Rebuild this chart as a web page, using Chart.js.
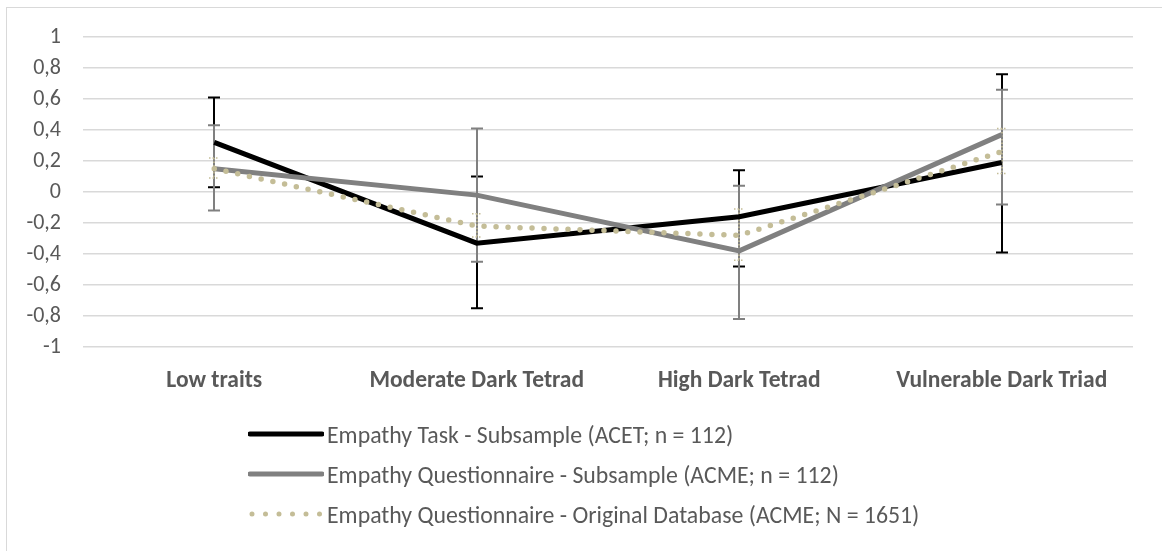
<!DOCTYPE html>
<html>
<head>
<meta charset="utf-8">
<script src="https://cdn.jsdelivr.net/npm/chart.js@4.4.1/dist/chart.umd.min.js"></script>
<style>
  html, body { margin: 0; padding: 0; background: #fff; }
  #wrap { position: relative; width: 1162px; height: 551px; overflow: hidden; background: #fff; }
  #frame { position: absolute; left: 6px; top: 7px; width: 1200px; height: 600px;
           border-left: 1px solid #d9d9d9; border-top: 1px solid #d9d9d9; }
  #chart { position: absolute; left: 0; top: 0; }
  #legend { position: absolute; left: 248px; top: 414px; font-family: Carlito, Lato, sans-serif;
            font-size: 23.8px; color: #595959; white-space: nowrap; }
  .lg-row { height: 40px; display: flex; align-items: center; }
  .lg-row > div { height: 30px; display: flex; align-items: center; }
  .lg-row svg { margin-right: 3px; }
</style>
</head>
<body>
<div id="wrap">
  <div id="frame"></div>
  <canvas id="chart" width="1162" height="551"></canvas>
  <div id="legend"></div>
</div>
<script>
const CATEGORIES = ['Low traits', 'Moderate Dark Tetrad', 'High Dark Tetrad', 'Vulnerable Dark Triad']

const ACET_LABEL = 'Empathy Task - Subsample (ACET; n = 112)'
const ACET_VALUES = [0.32, -0.33, -0.16, 0.19]
const ACET_ERR_HI = [0.61, 0.10, 0.14, 0.76]
const ACET_ERR_LO = [0.03, -0.75, -0.48, -0.39]

const ACME_SUB_LABEL = 'Empathy Questionnaire - Subsample (ACME; n = 112)'
const ACME_SUB_VALUES = [0.15, -0.02, -0.38, 0.37]
const ACME_SUB_ERR_HI = [0.43, 0.41, 0.04, 0.66]
const ACME_SUB_ERR_LO = [-0.12, -0.45, -0.82, -0.08]

const ACME_ORIG_LABEL = 'Empathy Questionnaire - Original Database (ACME; N = 1651)'
const ACME_ORIG_VALUES = [0.15, -0.22, -0.28, 0.26]
const ACME_ORIG_ERR_HI = [0.22, -0.14, -0.11, 0.41]
const ACME_ORIG_ERR_LO = [0.09, -0.29, -0.44, 0.12]

const Y_TICKS = [1, 0.8, 0.6, 0.4, 0.2, 0, -0.2, -0.4, -0.6, -0.8, -1]

const BLACK = '#000000'
const GRAY = '#808080'
const TAN = '#c4bd97'
const FONT = 'Carlito, Lato, sans-serif'

// vertical whiskers with caps, drawn under the lines
const errorBars = {
  id: 'errorBars',
  beforeDatasetsDraw(chart) {
    const ctx = chart.ctx
    const y = chart.scales.y
    chart.data.datasets.forEach((ds, i) => {
      const meta = chart.getDatasetMeta(i)
      const eb = ds.errorBars
      ctx.save()
      ctx.strokeStyle = eb.color
      ctx.lineWidth = eb.width
      ctx.setLineDash(eb.dash || [])
      meta.data.forEach((pt, j) => {
        const top = y.getPixelForValue(eb.hi[j])
        const bot = y.getPixelForValue(eb.lo[j])
        const x = Math.round(pt.x)
        ctx.beginPath()
        ctx.moveTo(x, top); ctx.lineTo(x, bot)
        ctx.moveTo(x - eb.cap, top); ctx.lineTo(x + eb.cap, top)
        ctx.moveTo(x - eb.cap, bot); ctx.lineTo(x + eb.cap, bot)
        ctx.stroke()
      })
      ctx.restore()
    })
  }
}

const datasets = [
  {
    label: ACET_LABEL, data: ACET_VALUES, borderColor: BLACK, borderWidth: 5,
    order: 3, errorBars: { hi: ACET_ERR_HI, lo: ACET_ERR_LO, color: BLACK, width: 2, cap: 6 },
  },
  {
    label: ACME_SUB_LABEL, data: ACME_SUB_VALUES, borderColor: GRAY, borderWidth: 5,
    order: 2, errorBars: { hi: ACME_SUB_ERR_HI, lo: ACME_SUB_ERR_LO, color: GRAY, width: 2, cap: 6 },
  },
  {
    label: ACME_ORIG_LABEL, data: ACME_ORIG_VALUES, borderColor: TAN, borderWidth: 5.5,
    borderDash: [0, 12], borderCapStyle: 'round', order: 1,
    errorBars: { hi: ACME_ORIG_ERR_HI, lo: ACME_ORIG_ERR_LO, color: TAN, width: 1.5, cap: 5, dash: [1.5, 2] },
  },
].map(d => Object.assign({ pointRadius: 0, pointHoverRadius: 0, tension: 0, fill: false }, d))

new Chart(document.getElementById('chart'), {
  type: 'line',
  data: { labels: CATEGORIES, datasets },
  plugins: [errorBars],
  options: {
    responsive: false,
    animation: false,
    events: [],
    layout: { padding: { top: 37, right: 29, left: 0, bottom: 0 } },
    plugins: { legend: { display: false }, tooltip: { enabled: false } },
    scales: {
      x: {
        offset: true,
        grid: { display: false, drawTicks: false },
        border: { display: false },
        ticks: { color: '#595959', padding: 20, maxRotation: 0, font: { family: FONT, size: 23.5, weight: 'bold' } },
        afterFit: s => { s.height = 204 },
      },
      y: {
        min: -1, max: 1,
        afterBuildTicks: s => { s.ticks = Y_TICKS.map(v => ({ value: v })) },
        grid: { color: '#d9d9d9', lineWidth: 1.5, drawTicks: false },
        border: { display: false },
        ticks: {
          color: '#595959', padding: 22, font: { family: FONT, size: 22 },
          callback: v => String(Math.round(v * 10) / 10).replace('.', ','),
        },
        afterFit: s => { s.width = 83 },
      },
    },
  },
})

// legend under the plot, one series per row
const legend = document.getElementById('legend')
legend.innerHTML = datasets.map(d => {
  const dash = d.borderDash ? `stroke-dasharray="0 13.5" stroke-linecap="round"` : `stroke-linecap="round"`
  const x1 = d.borderDash ? 4 : 2
  return `<div class="lg-row"><div>
    <svg width="76" height="12"><line x1="${x1}" y1="6" x2="74" y2="6" stroke="${d.borderColor}" stroke-width="5" ${dash}/></svg>
    <span>${d.label}</span>
  </div></div>`
}).join('')
</script>
</body>
</html>
